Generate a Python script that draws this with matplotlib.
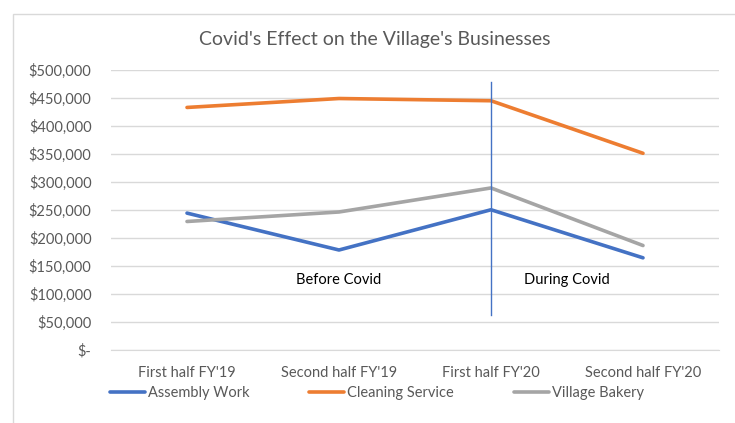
import matplotlib.pyplot as plt
from matplotlib.patches import Rectangle
from matplotlib.ticker import FuncFormatter

plt.rcParams['font.family'] = ['Lato', 'DejaVu Sans']

# data
periods = ["First half FY'19", "Second half FY'19", "First half FY'20", "Second half FY'20"]
assembly = [244000, 178000, 250000, 164000]
cleaning = [433000, 449000, 445000, 351000]
bakery = [229000, 246000, 289000, 186000]

covid_start = 2  # index of "First half FY'20"
divider_range = [62000, 479000]
phase_labels = ["Before Covid", "During Covid"]
phase_x = [1.0, 2.5]
phase_y = 125000

grey_text = '#595959'

fig = plt.figure(figsize=(7.35, 4.23), dpi=100)
ax = fig.add_axes([111/735, 1-349.5/423, 608/735, 279.5/423])

x = range(len(periods))
ax.plot(x, assembly, color='#4472C4', lw=2.6, label='Assembly Work', solid_capstyle='round')
ax.plot(x, cleaning, color='#ED7D31', lw=2.6, label='Cleaning Service', solid_capstyle='round')
ax.plot(x, bakery, color='#A5A5A5', lw=2.6, label='Village Bakery', solid_capstyle='round')

# divider line at the start of covid
ax.plot([covid_start, covid_start], divider_range, color='#4472C4', lw=1)
for lab, px in zip(phase_labels, phase_x):
    ax.text(px, phase_y, lab, ha='center', va='center', fontsize=10.5, color='black')

ax.set_xlim(-0.5, len(periods) - 0.5)
ax.set_ylim(0, 500000)
ax.set_yticks(range(0, 500001, 50000))
ax.yaxis.set_major_formatter(FuncFormatter(lambda v, p: '$-' if v == 0 else f'${v:,.0f}'))
ax.set_xticks(list(x))
ax.set_xticklabels(periods)
ax.grid(axis='y', color='#D9D9D9', lw=1)
ax.set_axisbelow(True)
for s in ['top', 'right', 'left']:
    ax.spines[s].set_visible(False)
ax.spines['bottom'].set_color('#D9D9D9')
ax.tick_params(axis='both', length=0, colors=grey_text, labelsize=10.5)
ax.tick_params(axis='y', pad=14)
ax.tick_params(axis='x', pad=12)

fig.text(375/735, 1-40/423, "Covid's Effect on the Village's Businesses",
         ha='center', va='center', fontsize=14, color=grey_text)

fig.legend(loc='center', bbox_to_anchor=(377/735, 1-393/423), ncol=3, frameon=False,
           handlelength=2.4, handletextpad=0.2, columnspacing=4.1, fontsize=10.5,
           labelcolor=grey_text)

# chart frame
fig.patches.append(Rectangle((13/735, -0.05), 1, 1-14/423+0.05, transform=fig.transFigure,
                             fill=False, edgecolor='#D9D9D9', lw=1))

fig.savefig('out.png', dpi=100)
